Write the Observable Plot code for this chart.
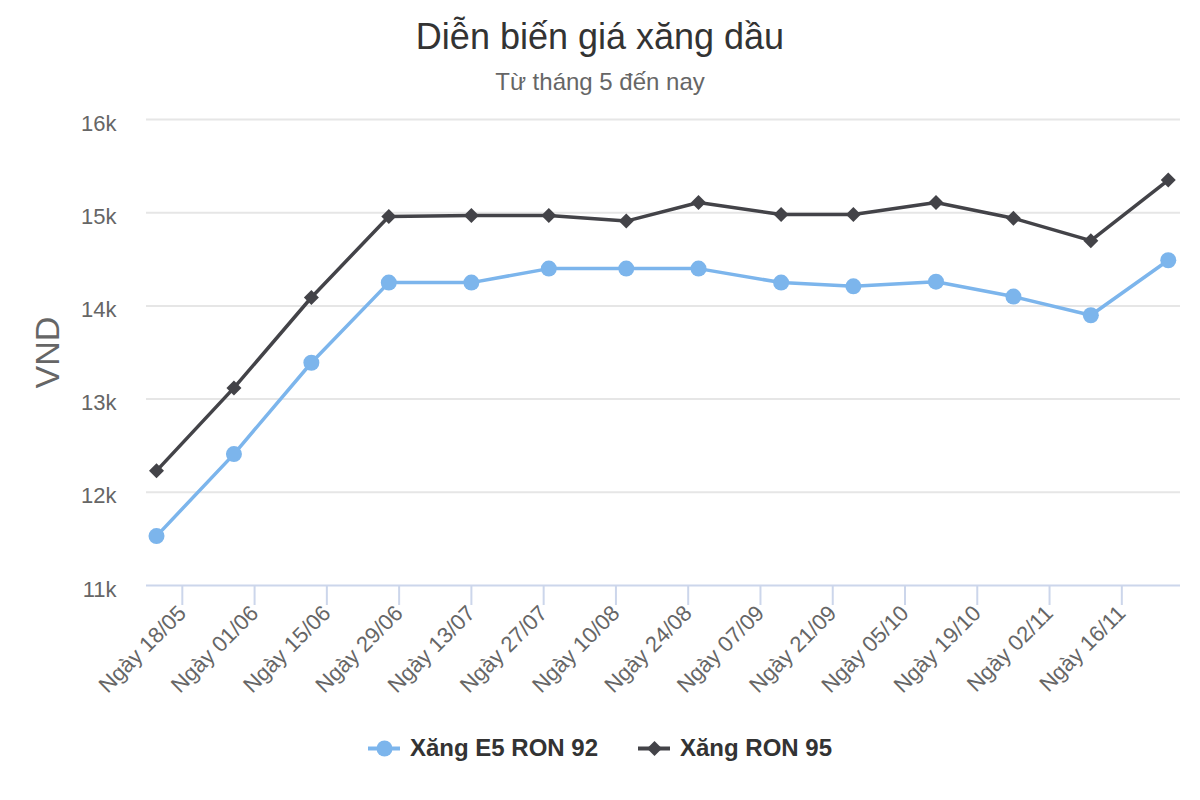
<!DOCTYPE html>
<html>
<head>
<meta charset="utf-8">
<script src="https://cdn.jsdelivr.net/npm/d3@7"></script>
<script src="https://cdn.jsdelivr.net/npm/@observablehq/plot@0.6"></script>
<style>
  html, body { margin: 0; padding: 0; background: #fff; }
  body { font-family: "Liberation Sans", Arial, Helvetica, sans-serif; }
  #wrap { position: relative; width: 1200px; height: 800px; overflow: hidden; }
  #chart { position: absolute; left: 0; top: 0; }
  #title { position: absolute; left: 0; width: 1200px; top: 17px; text-align: center;
           font-size: 36px; line-height: 40px; color: #333333; }
  #subtitle { position: absolute; left: 0; width: 1200px; top: 68px; text-align: center;
           font-size: 24px; line-height: 28px; color: #666666; }
  #legend { position: absolute; left: 0; width: 1200px; top: 733px; display: flex;
            justify-content: center; gap: 40px; font-size: 24px; font-weight: bold; color: #333333; }
  .item { display: flex; align-items: center; gap: 10px; line-height: 30px; }
</style>
</head>
<body>
<div id="wrap">
  <div id="chart"></div>
  <div id="title"></div>
  <div id="subtitle"></div>
  <div id="legend"></div>
</div>
<script>
// ---- Data ----
const titleText = "Diễn biến giá xăng dầu";
const subtitleText = "Từ tháng 5 đến nay";
const yLabel = "VND";
const seriesNames = ["Xăng E5 RON 92", "Xăng RON 95"];
const seriesColors = ["#7cb5ec", "#434348"];
const dates = ["2020-05-13","2020-05-28","2020-06-12","2020-06-27","2020-07-13","2020-07-28",
               "2020-08-12","2020-08-26","2020-09-11","2020-09-25","2020-10-11","2020-10-26",
               "2020-11-10","2020-11-25"];
const e5Ron92 = [11530, 12410, 13390, 14250, 14250, 14400, 14400, 14400, 14250, 14210, 14260, 14100, 13900, 14490];
const ron95   = [12230, 13120, 14090, 14960, 14970, 14970, 14910, 15110, 14980, 14980, 15110, 14940, 14700, 15350];
const tickDates = ["2020-05-18","2020-06-01","2020-06-15","2020-06-29","2020-07-13","2020-07-27",
                   "2020-08-10","2020-08-24","2020-09-07","2020-09-21","2020-10-05","2020-10-19",
                   "2020-11-02","2020-11-16"];
const yTicks = [11000, 12000, 13000, 14000, 15000, 16000];
const xDomain = ["2020-05-11T01:30:00Z", "2020-11-27T08:50:00Z"];

// ---- Build ----
const parse = s => new Date(s.length === 10 ? s + "T00:00:00Z" : s);
const rows = [];
dates.forEach((d, i) => {
  rows.push({date: parse(d), value: e5Ron92[i], series: seriesNames[0]});
  rows.push({date: parse(d), value: ron95[i], series: seriesNames[1]});
});
const e5Rows = rows.filter(r => r.series === seriesNames[0]);
const r95Rows = rows.filter(r => r.series === seriesNames[1]);
const ticks = tickDates.map(parse);
const pad = n => String(n).padStart(2, "0");
const fmt = d => `Ngày ${pad(d.getUTCDate())}/${pad(d.getUTCMonth() + 1)}`;

const font = '"Liberation Sans", Arial, Helvetica, sans-serif';

const chart = Plot.plot({
  width: 1200,
  height: 800,
  marginLeft: 146,
  marginRight: 20,
  marginTop: 119,
  marginBottom: 215,
  style: {fontFamily: font, background: "transparent"},
  x: {type: "utc", domain: xDomain.map(parse)},
  y: {domain: [11000, 16000]},
  marks: [
    Plot.gridY(yTicks.slice(1), {stroke: "#e6e6e6", strokeOpacity: 1, strokeWidth: 2}),
    Plot.ruleY([11000], {stroke: "#ccd6eb", strokeWidth: 2}),
    Plot.axisY({ticks: yTicks, tickSize: 0, tickPadding: 30, tickFormat: d => d / 1000 + "k",
                fontSize: 22, fill: "#666666", label: null, dy: 4}),
    Plot.axisX({ticks: ticks, tickFormat: fmt, tickSize: 20, tickRotate: -45, tickPadding: 4,
                fontSize: 22, fill: "#666666", stroke: "#ccd6eb", strokeWidth: 2, strokeOpacity: 1, label: null}),
    Plot.text([yLabel], {text: d => d, frameAnchor: "left", dx: -98, dy: 36, rotate: -90, fontSize: 34, fill: "#666666"}),
    Plot.line(e5Rows, {x: "date", y: "value", stroke: seriesColors[0], strokeWidth: 3.5}),
    Plot.dot(e5Rows, {x: "date", y: "value", fill: seriesColors[0], r: 8, symbol: "circle"}),
    Plot.line(r95Rows, {x: "date", y: "value", stroke: seriesColors[1], strokeWidth: 3.5}),
    Plot.dot(r95Rows, {x: "date", y: "value", fill: seriesColors[1], r: 6.75, symbol: "diamond2"})
  ]
});
document.getElementById("chart").appendChild(chart);
document.getElementById("title").textContent = titleText;
document.getElementById("subtitle").textContent = subtitleText;

// Legend
const legend = document.getElementById("legend");
const symbols = ["circle", "diamond2"];
const radii = [8, 6.75];
seriesNames.forEach((name, i) => {
  const item = document.createElement("div");
  item.className = "item";
  const sym = Plot.plot({
    width: 32, height: 30, margin: 0,
    x: {domain: [0, 1], axis: null}, y: {domain: [0, 1], axis: null},
    style: {background: "transparent", overflow: "visible"},
    marks: [
      Plot.ruleY([0.5], {x1: 0, x2: 1, stroke: seriesColors[i], strokeWidth: 4}),
      Plot.dot([0.5], {x: 0.5, y: 0.5, r: radii[i], symbol: symbols[i], fill: seriesColors[i]})
    ]
  });
  const label = document.createElement("span");
  label.textContent = name;
  item.appendChild(sym);
  item.appendChild(label);
  legend.appendChild(item);
});
</script>
</body>
</html>
